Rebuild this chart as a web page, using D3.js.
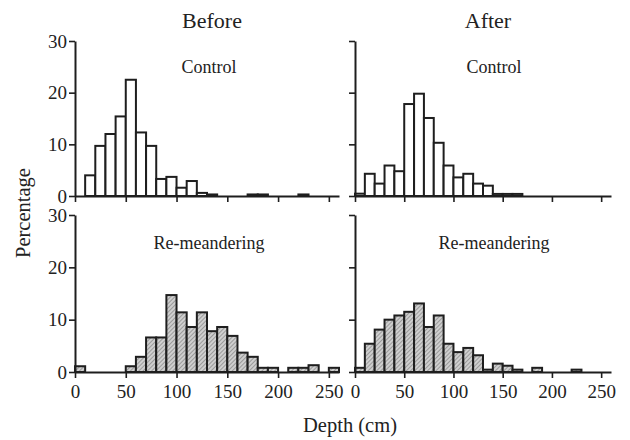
<!DOCTYPE html>
<html><head><meta charset="utf-8">
<script src="https://cdn.jsdelivr.net/npm/d3@7"></script>
<style>
body{margin:0;background:#fff;}
svg{display:block;}
text{font-family:"Liberation Serif","Times New Roman",serif !important;fill:#222;}
</style></head>
<body><svg id="c" width="630" height="440"></svg>
<script>
const binStarts = [0,10,20,30,40,50,60,70,80,90,100,110,120,130,140,150,160,170,180,190,200,210,220,230,240,250];
const binWidth = 10;
const beforeControl = [0,4,9.7,12,15.4,22.5,12.3,9.7,3.3,3.7,1.6,2.9,0.6,0.3,0,0,0,0.3,0.3,0,0,0,0.3,0,0,0];
const afterControl = [0.45,4.3,2.4,5.9,4.8,17.8,19.8,15.1,10.3,5.9,3.6,4.3,2.4,2.0,0.4,0.4,0.4,0,0,0,0,0,0,0,0,0];
const beforeRemeander = [1.1,0,0,0,0,1.1,2.9,6.6,6.6,14.7,11.4,8.6,11.4,7.8,8.6,6.9,3.7,2.9,0.8,0.8,0,0.8,0.8,1.3,0,0.8];
const afterRemeander = [0.8,5.4,8.1,10.0,10.8,11.5,13.1,8.6,10.8,5.4,3.8,4.6,3.2,0.45,1.6,1.2,0.45,0,0.8,0,0,0,0.45,0,0,0];
const xTicks = [0,50,100,150,200,250];
const yTicks = [0,10,20,30];
const columnTitles = ["Before","After"];
const rowTitles = ["Control","Re-meandering"];

const FONT = '"Liberation Serif","Times New Roman",serif';
const svg = d3.select("#c");
const defs = svg.append("defs");
const pat = defs.append("pattern").attr("id","hatch").attr("patternUnits","userSpaceOnUse")
  .attr("width",3).attr("height",3).attr("patternTransform","rotate(45)");
pat.append("rect").attr("width",3).attr("height",3).attr("fill","#cfcfcf");
pat.append("line").attr("x1",0).attr("y1",0).attr("x2",0).attr("y2",3).attr("stroke","#6e6e6e").attr("stroke-width",1.1);

const cols = [{x0:75,x1:339},{x0:355,x1:611}];
const rows = [{y0:196,y1:41},{y0:372,y1:215}];
const panels = [
  {c:0,r:0,data:beforeControl,fill:"#fff"},
  {c:1,r:0,data:afterControl,fill:"#fff"},
  {c:0,r:1,data:beforeRemeander,fill:"url(#hatch)"},
  {c:1,r:1,data:afterRemeander,fill:"url(#hatch)"}
];

panels.forEach(p=>{
  const x = d3.scaleLinear().domain([0,260]).range([cols[p.c].x0, cols[p.c].x1]);
  const y = d3.scaleLinear().domain([0,30]).range([rows[p.r].y0, rows[p.r].y1]);
  const g = svg.append("g");
  const bins = binStarts.map((b,i)=>({b, v:p.data[i]})).filter(d=>d.v>0);
  g.selectAll("rect.bar").data(bins).enter().append("rect")
    .attr("x",d=>x(d.b)).attr("width",d=>x(d.b+binWidth)-x(d.b))
    .attr("y",d=>y(d.v)).attr("height",d=>y(0)-y(d.v))
    .attr("fill",p.fill).attr("stroke","#1e1e1e").attr("stroke-width",2);
  const xa = g.append("g").attr("transform",`translate(0,${y(0)})`)
    .call(d3.axisBottom(x).tickValues(xTicks).tickSize(6).tickSizeOuter(0)
      .tickFormat(p.r===1? d3.format("d") : ()=>""));
  xa.attr("font-family",null);
  xa.select(".domain").attr("stroke","#1e1e1e").attr("stroke-width",2);
  xa.selectAll(".tick line").attr("stroke","#1e1e1e").attr("stroke-width",1.6);
  xa.selectAll(".tick text").style("font-family",FONT).style("font-size","19px").attr("fill","#222").attr("dy","0.9em");
  const ya = g.append("g").attr("transform",`translate(${x(0)},0)`)
    .call(d3.axisLeft(y).tickValues(yTicks).tickSize(6).tickSizeOuter(0)
      .tickFormat(p.c===0? d3.format("d") : ()=>""));
  ya.attr("font-family",null);
  ya.select(".domain").attr("stroke","#1e1e1e").attr("stroke-width",2);
  ya.selectAll(".tick line").attr("stroke","#1e1e1e").attr("stroke-width",1.6);
  ya.selectAll(".tick text").style("font-family",FONT).style("font-size","19px").attr("fill","#222").attr("x",-8);
  g.append("text").attr("x",(p.c===0?209:494)).attr("y",p.r===0?72.5:248.5)
    .attr("text-anchor","middle").style("font-size","18px").text(rowTitles[p.r]);
});

svg.append("text").attr("x",212).attr("y",28).attr("text-anchor","middle").style("font-size","22px").text(columnTitles[0]);
svg.append("text").attr("x",488).attr("y",28).attr("text-anchor","middle").style("font-size","22px").text(columnTitles[1]);
svg.append("text").attr("transform","translate(30,213) rotate(-90)").attr("text-anchor","middle").style("font-size","20.5px").text("Percentage");
svg.append("text").attr("x",350).attr("y",432).attr("text-anchor","middle").style("font-size","20.5px").text("Depth (cm)");
</script></body></html>
